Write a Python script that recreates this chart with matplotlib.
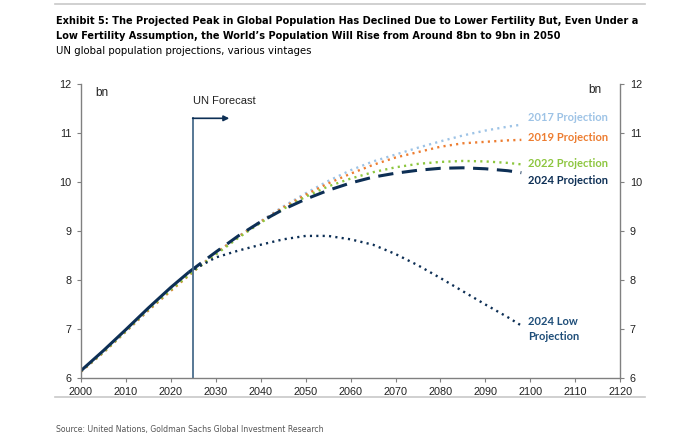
import matplotlib
matplotlib.use("Agg")
import matplotlib.pyplot as plt
from matplotlib.lines import Line2D

# --- data (bn people) ---
years = [2000, 2005, 2010, 2015, 2020, 2025, 2030, 2035, 2040, 2045, 2050,
         2055, 2060, 2065, 2070, 2075, 2080, 2085, 2090, 2095, 2098]

proj_2017 = [6.13, 6.52, 6.95, 7.38, 7.79, 8.18, 8.55, 8.89, 9.20, 9.50, 9.77,
             10.02, 10.24, 10.42, 10.56, 10.70, 10.83, 10.95, 11.05, 11.13, 11.17]
proj_2019 = [6.13, 6.52, 6.95, 7.38, 7.78, 8.17, 8.55, 8.88, 9.19, 9.48, 9.74,
             9.97, 10.17, 10.35, 10.50, 10.61, 10.72, 10.79, 10.82, 10.85, 10.86]
proj_2022 = [6.14, 6.53, 6.96, 7.40, 7.80, 8.18, 8.52, 8.86, 9.17, 9.45, 9.70,
             9.91, 10.07, 10.20, 10.30, 10.37, 10.41, 10.43, 10.42, 10.39, 10.36]

hist_years = [2000, 2005, 2010, 2015, 2020, 2024]
hist = [6.15, 6.56, 6.99, 7.43, 7.85, 8.16]

fc_years = [2024, 2030, 2035, 2040, 2045, 2050, 2055, 2060, 2065, 2070,
            2075, 2080, 2085, 2090, 2095, 2098]
proj_2024 = [8.16, 8.57, 8.90, 9.19, 9.44, 9.65, 9.83, 9.98, 10.10, 10.18,
             10.24, 10.28, 10.29, 10.27, 10.23, 10.19]
low_2024 = [8.16, 8.46, 8.60, 8.72, 8.83, 8.90, 8.90, 8.83, 8.72, 8.53,
            8.30, 8.04, 7.77, 7.50, 7.24, 7.07]

forecast_year = 2025

navy = "#0d2f55"
lblue = "#9dc3e6"
orange = "#ed7d31"
green = "#8dc63f"
grey = "#808080"

narrow = dict(family="DejaVu Sans", fontstretch="condensed")

fig = plt.figure(figsize=(7, 4.44), dpi=100)
ax = fig.add_axes([0.1157, 0.1486, 0.7703, 0.6622])

dot = (0, (0.9, 1.8))
ax.plot(years, proj_2017, color=lblue, lw=1.7, ls=dot)
ax.plot(years, proj_2019, color=orange, lw=1.7, ls=dot)
ax.plot(years, proj_2022, color=green, lw=1.7, ls=dot)
ax.plot(hist_years, hist, color=navy, lw=2.2, solid_capstyle="butt")
ax.plot(fc_years, proj_2024, color=navy, lw=2.2, ls=(0, (5, 2.8)))
ax.plot(fc_years, low_2024, color=navy, lw=1.7, ls=dot)

ax.set_xlim(2000, 2120)
ax.set_ylim(6, 12)
ax.set_xticks(range(2000, 2121, 10))
ax.set_yticks(range(6, 13))

for s in ["left", "right", "bottom"]:
    ax.spines[s].set_color(grey)
    ax.spines[s].set_linewidth(1.0)
ax.spines["top"].set_visible(False)
ax.tick_params(axis="both", labelsize=7.8, colors="#222222", length=3,
               width=0.8, color=grey)
ax.tick_params(axis="y", right=True, labelright=True, pad=4)
for t in ax.get_xticklabels() + ax.get_yticklabels():
    t.set_family("Liberation Sans")

# forecast marker
ax.plot([forecast_year, forecast_year], [6, 11.3], color="#4a6d8c", lw=1.3)
ax.annotate("", xy=(2033, 11.3), xytext=(forecast_year - 0.15, 11.3),
            arrowprops=dict(arrowstyle="-|>", color=navy, lw=1.2,
                            mutation_scale=8, shrinkA=0, shrinkB=0))
ax.text(forecast_year, 11.55, "UN Forecast", fontsize=8, color="#222222",
        ha="left", va="bottom", family="Liberation Sans")

ax.text(0.027, 0.99, "bn", transform=ax.transAxes, fontsize=8.5,
        va="top", ha="left", color="#222222", family="Liberation Sans")
ax.text(0.965, 1.0, "bn", transform=ax.transAxes, fontsize=8.5,
        va="top", ha="right", color="#222222", family="Liberation Sans")

lab = dict(fontsize=8, fontweight="bold", family=["Lato", "DejaVu Sans"],
           ha="left", va="center")
ax.text(2099.5, 11.31, "2017 Projection", color=lblue, **lab)
ax.text(2099.5, 10.9, "2019 Projection", color=orange, **lab)
ax.text(2099.5, 10.38, "2022 Projection", color=green, **lab)
ax.text(2099.5, 10.03, "2024 Projection", color=navy, **lab)
ax.text(2099.5, 7.0, "2024 Low\nProjection", color="#1f4e79",
        linespacing=1.4, **lab)

# header / footer
fig.add_artist(Line2D([0.079, 0.921], [0.991, 0.991], color="#c8c8c8", lw=1.2))
fig.add_artist(Line2D([0.079, 0.921], [0.106, 0.106], color="#c8c8c8", lw=1.2))
fig.text(0.08, 0.953,
         "Exhibit 5: The Projected Peak in Global Population Has Declined Due to Lower Fertility But, Even Under a",
         fontsize=7.8, fontweight="bold", va="center", **narrow)
fig.text(0.08, 0.919,
         "Low Fertility Assumption, the World\u2019s Population Will Rise from Around 8bn to 9bn in 2050",
         fontsize=7.8, fontweight="bold", va="center", **narrow)
fig.text(0.08, 0.885, "UN global population projections, various vintages",
         fontsize=8.1, va="center", **narrow)
fig.text(0.08, 0.032, "Source: United Nations, Goldman Sachs Global Investment Research",
         fontsize=6.2, color="#555555", va="center", **narrow)

fig.savefig("out.png", dpi=100)
